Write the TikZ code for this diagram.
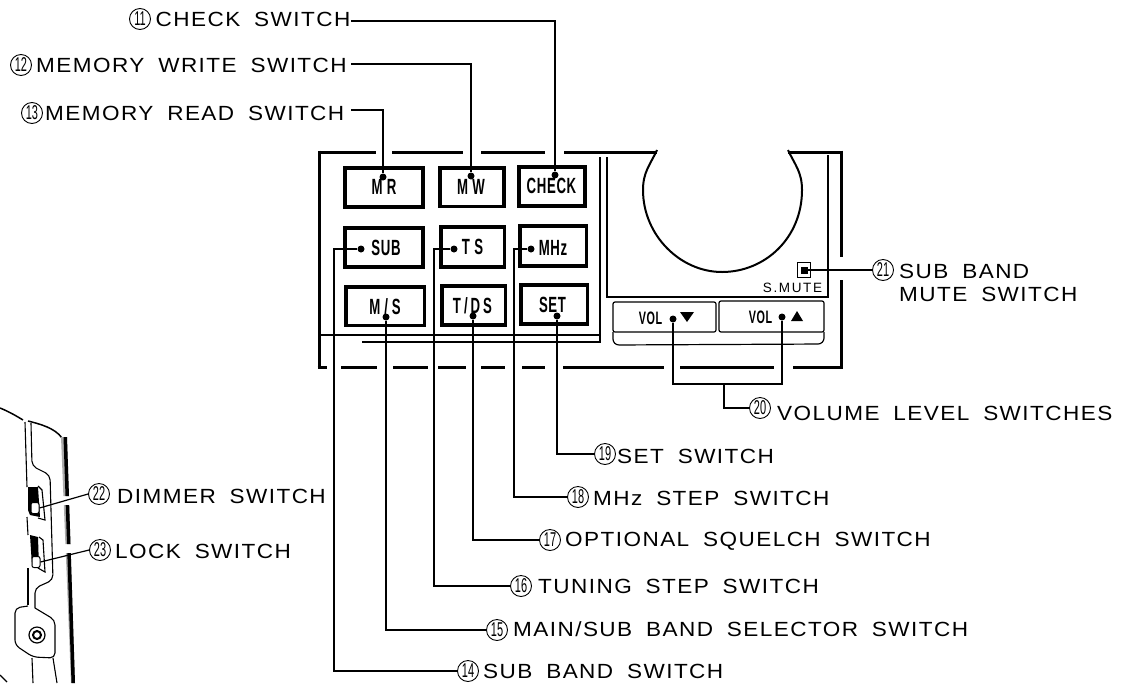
\documentclass[tikz,border=0pt]{standalone}
\usepackage{fontspec}
\setmainfont{Liberation Sans}
\newfontfamily\lblfont[FakeStretch=1.1,LetterSpace=7,WordSpace=1.8]{Liberation Sans}
\newfontfamily\btnfont[FakeStretch=0.6,LetterSpace=3]{Liberation Sans}
\newfontfamily\numfont[FakeStretch=0.55]{Liberation Sans}
\newfontfamily\mutefont[LetterSpace=12]{Liberation Sans}
\usetikzlibrary{positioning}
\tikzset{
  lbl/.style={anchor=base west,inner sep=0pt,align=left,font=\lblfont\fontsize{20.5}{23.5}\selectfont},
  numc/.style={circle,draw,line width=0.9pt,inner sep=0pt,minimum size=21pt,font=\numfont\fontsize{20}{20}\selectfont},
  btn/.style={draw,line width=3.5pt,inner sep=0pt},
  btntxt/.style={inner sep=0pt,font=\btnfont\bfseries\fontsize{22}{22}\selectfont},
  swdot/.style={circle,fill,inner sep=0pt,minimum size=7pt},
  lead/.style={line width=1.2pt},
  panel/.style={line width=3pt},
  thinline/.style={line width=1.1pt},
  volbtn/.style={draw,line width=1.2pt,rounded corners=2pt,inner sep=0pt}
}
\begin{document}
\begin{tikzpicture}[x=1pt,y=-1pt]
  \useasboundingbox (0,0) rectangle (1134,683);

  % Panel outline
  \foreach \xa/\xb in {319/376, 392/463, 481/545, 564/657, 788/841}
    \draw[panel] (\xa,152) -- (\xb,152);
  \foreach \xa/\xb in {317.5/327, 341/377, 393/428, 438/466, 481/505, 522/545, 563/664, 680/774, 793/841}
    \draw[panel] (\xa,367) -- (\xb,367);
  \draw[panel] (319,150.5) -- (319,368.5);
  \foreach \ya/\yb in {150.5/257, 280/368.5}
    \draw[panel] (841,\ya) -- (841,\yb);

  % Dial cut-out
  \draw[line width=2pt] (657,150) .. controls (650,165) and (643,172) .. (643,190)
    .. controls (643,235) and (680,272) .. (722,272)
    .. controls (765,272) and (802,238) .. (802,190)
    .. controls (802,172) and (795,165) .. (788,150);

  % Inner lines
  \draw[thinline] (600,157) -- (600,342) -- (362,342);
  \draw[thinline] (600,335) -- (320,335);
  \draw[thinline] (607,157) -- (607,297) -- (828,297) -- (828,155);

  % Switches with their texts
  \foreach \bname/\bx/\by/\bw/\bh/\tx/\ty/\txt in {
      mr/384/187.5/78/39/384/187/M R,
      mw/472/187/64/38.5/471/187/M W,
      check/552/186.5/66/39/551.5/186/CHECK,
      sub/384/247.5/78/39/386/248/SUB,
      ts/472.5/247/63.5/40/472.5/247/T S,
      mhz/553/246/66.5/40/553/248/MHz,
      ms/385/306/78.5/38.5/385/307/{M\kern4pt/\kern4pt S},
      tds/473.5/305.5/63.5/39/472.5/306/{T\kern3pt/\kern3pt D\kern3pt S},
      set/554/304.5/66.5/39/552.5/305/SET}
  {
    \node[btn,minimum width=\bw pt,minimum height=\bh pt] (\bname) at (\bx,\by) {};
    \node[btntxt] (t\bname) at (\tx,\ty) {\txt};
  }

  % Volume switches
  \node[volbtn,minimum width=103pt,minimum height=30pt] (vold) at (664.5,317) {};
  \node[volbtn,minimum width=105pt,minimum height=31pt] (volu) at (771.5,316.5) {};
  \draw[line width=1.2pt,rounded corners=6pt] (613,332) -- (613,345) -- (824,344) -- (824,332);
  \node[btntxt,font=\btnfont\bfseries\fontsize{18}{18}\selectfont] (tvold) at (650.5,318) {VOL};
  \node[btntxt,font=\btnfont\bfseries\fontsize{18}{18}\selectfont] (tvolu) at (760.5,317) {VOL};
  \fill (680,312) -- (694,312) -- (687,322) -- cycle;
  \fill (791,321) -- (803,321) -- (797,311) -- cycle;

  % Mute switch
  \node[draw,line width=1.5pt,inner sep=0pt,minimum width=13pt,minimum height=15pt] (mute) at (804,270) {};
  \node[fill,inner sep=0pt,minimum size=7pt] (dmute) at (804,270) {};
  \node[inner sep=0pt,font=\mutefont\fontsize{13.5}{13.5}\selectfont] (tmute) at (792.5,288) {S.MUTE};

  % Dots
  \foreach \dname/\dx/\dy in {dmr/383/177, dmw/471/176, dcheck/555/175, dsub/361/249, dts/454/249,
      dmhz/531/249, dms/386/317, dtds/473/316, dset/557/316, dvold/673/319, dvolu/782/317}
    \node[swdot] (\dname) at (\dx,\dy) {};

  % Side panel
  \draw[line width=1.5pt] (0,408) .. controls (10,412) and (18,417) .. (23,420);
  \draw[line width=1.5pt] (28,421) .. controls (40,424) and (55,428) .. (62,438);
  \foreach \ya/\yb/\la/\ra/\lb/\rb in {437/496/61/67/63.4/69, 505/544/63.8/69.2/65.4/70.5, 553/683/65.8/70.8/71/75}
  {
    \fill[gray!65] (\la,\ya) -- (\ra,\ya) -- (\rb,\yb) -- (\lb,\yb) -- cycle;
    \fill (\ra-3.5,\ya) -- (\ra,\ya) -- (\rb,\yb) -- (\rb-3.5,\yb) -- cycle;
  }
  \draw[line width=1.1pt] (25,422) -- (27,487);
  \draw[line width=1.1pt] (27,517) -- (28,535);
  \draw[line width=1.1pt] (28,568) -- (28,605);
  \draw[line width=1.1pt,rounded corners=5pt] (31,423) -- (32,466) -- (50,475) -- (53,580) -- (35,588) -- (35,608);
  \draw[line width=1.1pt,rounded corners=5pt] (28,606) -- (15,608) -- (15,645) -- (33,657) -- (55,658) -- (55,620) -- (35,608);
  \draw[line width=1.1pt] (32,658) -- (33,683);
  \draw[line width=1.1pt] (53,658) -- (57,683);
  \draw[line width=1.1pt] (0,675) -- (7,682);
  \fill (28,487) -- (38,487) -- (40,517) -- (30,515) -- (28,510) -- cycle;
  \draw[line width=1.1pt] (38,486) -- (42,490) -- (45,520) -- (38,518);
  \fill (30,535) -- (38,537) -- (39,568) -- (32,566) -- cycle;
  \draw[line width=1.1pt] (39,537) -- (43,540) -- (45,572) -- (38,568);
  \node[draw,fill=white,line width=1pt,rounded corners=2pt,inner sep=0pt,minimum width=8pt,minimum height=11pt] (sw22) at (35,508) {};
  \node[draw,fill=white,line width=1pt,rounded corners=2pt,inner sep=0pt,minimum width=8pt,minimum height=11pt] (sw23) at (36,562) {};
  \node[circle,draw,line width=1.2pt,inner sep=0pt,minimum size=16pt] (screw) at (37,635) {};
  \node[circle,draw,line width=2pt,inner sep=0pt,minimum size=8pt] (screwin) at (37,635) {};

  % Labels
  \foreach \lname/\cx/\cy/\tx/\ty/\txt in {
      11/140/19/155.5/26/CHECK SWITCH,
      12/21/65/36/72.5/MEMORY WRITE SWITCH,
      13/32/113/45/120.5/MEMORY READ SWITCH,
      14/468/671/483/678/SUB BAND SWITCH,
      15/497/630/513/636/{MAIN/SUB BAND SELECTOR SWITCH},
      16/521/586/538/593/TUNING STEP SWITCH,
      17/550/540/565/546/OPTIONAL SQUELCH SWITCH,
      18/578/497/593/505/MHz STEP SWITCH,
      19/605/454/617/463/SET SWITCH,
      20/760/408/777/420/VOLUME LEVEL SWITCHES,
      21/883/270/899/301.5/{SUB BAND\\MUTE SWITCH},
      22/99/494/117/503/DIMMER SWITCH,
      23/100/550/115/558/LOCK SWITCH}
  {
    \node[numc] (n\lname) at (\cx,\cy) {\lname};
    \node[lbl] (l\lname) at (\tx,\ty) {\txt};
  }

  % Connectors
  \foreach \from/\lname/\yc in {dcheck/11/21, dmw/12/64, dmr/13/110}
  {
    \coordinate (c\lname) at (351,\yc);
    \draw[lead] (c\lname) -| (\from);
  }
  \foreach \from/\lname in {dms/15, dtds/17, dset/19}
    \draw[lead] (\from) |- (n\lname.west);
  \foreach \from/\lname/\xc in {dsub/14/334, dts/16/434, dmhz/18/514}
    \draw[lead] (\from) -- (\xc,0 |- \from) |- (n\lname.west);
  \coordinate (cvol) at (724,384);
  \draw[lead] (dvold) |- (cvol) -| (dvolu);
  \draw[lead] (cvol) |- (n20.west);
  \draw[lead] (dmute) -- (n21.west);
  \draw[lead] (sw22.east) -- (n22.west);
  \draw[lead] (sw23.east) -- (n23.west);
\end{tikzpicture}
\end{document}
